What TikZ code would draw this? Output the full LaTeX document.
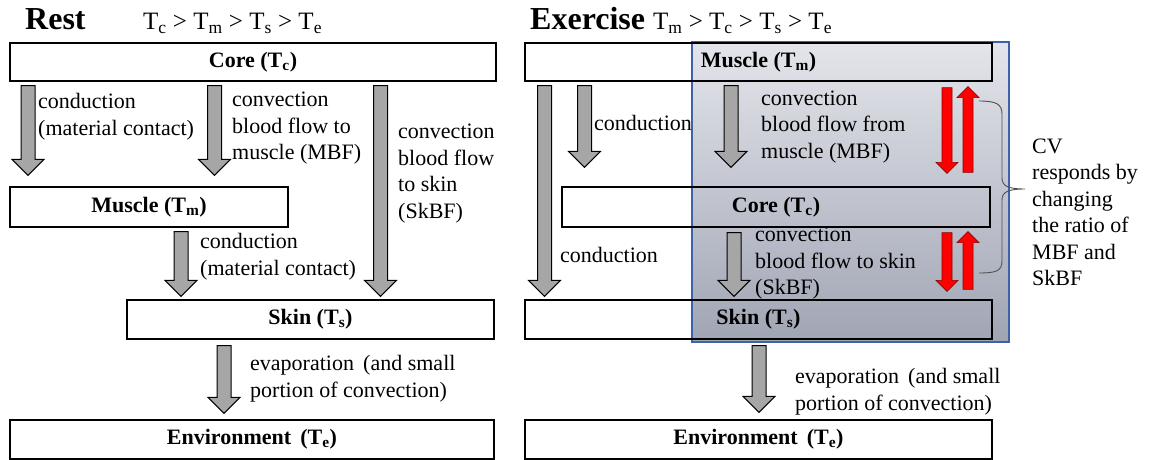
\documentclass[tikz,border=0pt]{standalone}
\usepackage{fontspec}
\setmainfont{Liberation Serif}
\usetikzlibrary{calc}

\definecolor{arrowgray}{RGB}{166,166,166}
\definecolor{shadetop}{RGB}{228,229,235}
\definecolor{shadebot}{RGB}{160,165,180}
\definecolor{frameblue}{RGB}{62,98,170}
\definecolor{darkred}{RGB}{140,0,0}
\definecolor{bracegray}{RGB}{80,80,80}

\newcommand{\txtsize}{\fontsize{22}{26.5}\selectfont}
\newcommand{\ttlsize}{\fontsize{32}{36}\selectfont}
\newcommand{\ineqsize}{\fontsize{25}{30}\selectfont}

% block arrow from #2 to #3 (shaft width, head width and length come from the style)
\newcommand{\fatarrow}[3][fat]{%
  \draw[#1] let \p1=#2, \p2=#3, \p3=($(\p2)!\al!(\p1)$) in
    (\x1-\aw,\y1) -- (\x1+\aw,\y1) -- (\x1+\aw,\y3) -- (\x1+\ah,\y3) -- (\x2,\y2)
    -- (\x1-\ah,\y3) -- (\x1-\aw,\y3) -- cycle;}

\tikzset{
  layer/.style={draw=black, line width=1.3pt, inner sep=0pt, font=\txtsize\bfseries},
  lbl/.style={anchor=west, align=left, inner sep=0pt, font=\txtsize},
  fat/.style={draw=black, fill=arrowgray, line width=1pt, line join=miter,
    /utils/exec={\def\aw{7pt}\def\ah{16pt}\def\al{16pt}}},
  redfat/.style={draw=darkred, fill=red, line width=0.6pt, line join=miter,
    /utils/exec={\def\aw{5pt}\def\ah{11pt}\def\al{11pt}}},
}

\begin{document}
\begin{tikzpicture}[x=1pt, y=-1pt]
    \useasboundingbox (0,0) rectangle (1149,460);

    % exercise: shaded part
    \shade[top color=shadetop, bottom color=shadebot, draw=frameblue, line width=1.1pt] (692,42) rectangle (1009,342);

    % titles
    \node[anchor=base west, inner sep=0pt, font=\ttlsize\bfseries] (restT) at (25,30) {Rest};
    \node[anchor=base west, inner sep=0pt, font=\ineqsize] (restI) at (143,30) {T\textsubscript{c} > T\textsubscript{m} > T\textsubscript{s} > T\textsubscript{e}};
    \node[anchor=base west, inner sep=0pt, font=\ttlsize\bfseries] (exT) at (530,30) {Exercise};
    \node[anchor=base west, inner sep=0pt, font=\ineqsize] (exI) at (653,30) {T\textsubscript{m} > T\textsubscript{c} > T\textsubscript{s} > T\textsubscript{e}};

    % rest: layers
    \node[layer, minimum width=486pt, minimum height=38pt] (coreL) at (253,62) {Core (T\textsubscript{c})};
    \node[layer, minimum width=278pt, minimum height=40pt] (muscL) at (149,207) {Muscle (T\textsubscript{m})};
    \node[layer, minimum width=367pt, minimum height=39pt] (skinL) at (310.5,319.5) {Skin (T\textsubscript{s})};
    \node[layer, minimum width=484pt, minimum height=39pt] (envL) at (252,439.5) {Environment\, (T\textsubscript{e})};

    % exercise: layers
    \node[layer, minimum width=467pt, minimum height=38pt] (muscR) at (758.5,62) {Muscle (T\textsubscript{m})};
    \node[layer, minimum width=428pt, minimum height=40pt] (coreR) at (776,207) {Core (T\textsubscript{c})};
    \node[layer, minimum width=467pt, minimum height=39pt] (skinR) at (758.5,319.5) {Skin (T\textsubscript{s})};
    \node[layer, minimum width=467pt, minimum height=39pt] (envR) at (758.5,439.5) {Environment\, (T\textsubscript{e})};

    % arrow columns
    \coordinate (a1) at (28,0);
    \coordinate (a2) at (214.5,0);
    \coordinate (a3) at (380.5,0);
    \coordinate (a4) at (181,0);
    \coordinate (a5) at (224,0);
    \coordinate (r1) at (544.5,0);
    \coordinate (r2) at (584.5,0);
    \coordinate (r3) at (731,0);
    \coordinate (r4) at (734,0);
    \coordinate (r5) at (759,0);
    \coordinate (rd) at (947,0);
    \coordinate (ru) at (968,0);

    % rest: heat flow
    \fatarrow{($(coreL.south -| a1)+(0,4)$)}{($(muscL.north -| a1)+(0,-11)$)}
    \fatarrow{($(coreL.south -| a2)+(0,4)$)}{($(muscL.north -| a2)+(0,-11)$)}
    \fatarrow{($(coreL.south -| a3)+(0,4)$)}{($(skinL.north -| a3)+(0,-3)$)}
    \fatarrow{($(muscL.south -| a4)+(0,4)$)}{($(skinL.north -| a4)+(0,-3)$)}
    \fatarrow{($(skinL.south -| a5)+(0,6)$)}{($(envL.north -| a5)+(0,-6)$)}

    % exercise: heat flow
    \fatarrow{($(muscR.south -| r1)+(0,4)$)}{($(skinR.north -| r1)+(0,-3)$)}
    \fatarrow{($(muscR.south -| r2)+(0,4)$)}{($(coreR.north -| r2)+(0,-19)$)}
    \fatarrow{($(muscR.south -| r3)+(0,4)$)}{($(coreR.north -| r3)+(0,-19)$)}
    \fatarrow{($(coreR.south -| r4)+(0,5)$)}{($(skinR.north -| r4)+(0,-3)$)}
    \fatarrow{($(skinR.south -| r5)+(0,6)$)}{($(envR.north -| r5)+(0,-7)$)}

    % exercise: CV adjustment
    \fatarrow[redfat]{($(muscR.south -| rd)+(0,6)$)}{($(coreR.north -| rd)+(0,-13)$)}
    \fatarrow[redfat]{($(coreR.north -| ru)+(0,-14)$)}{($(muscR.south -| ru)+(0,5)$)}
    \fatarrow[redfat]{($(coreR.south -| rd)+(0,5)$)}{($(skinR.north -| rd)+(0,-8)$)}
    \fatarrow[redfat]{($(skinR.north -| ru)+(0,-10)$)}{($(coreR.south -| ru)+(0,4)$)}

    % brace
    \draw[bracegray, line width=0.9pt] (979,101) .. controls (996,101) and (1002,104) .. (1002,114) -- (1002,178)
        .. controls (1002,186) and (1008,189) .. (1025,189)
        .. controls (1008,189) and (1002,192) .. (1002,200) -- (1002,261)
        .. controls (1002,271) and (996,273) .. (979,273);

    % rest: labels
    \node[lbl] (condA) at (38,116.5) {conduction\\(material contact)};
    \node[lbl] (convA) at (232,128.5) {convection\\blood flow to\\muscle (MBF)};
    \node[lbl] (convB) at (398,173.5) {convection\\blood flow\\to skin\\(SkBF)};
    \node[lbl] (condB) at (200,256.5) {conduction\\(material contact)};
    \node[lbl] (evapA) at (250,378.5) {evaporation\, (and small\\portion of convection)};

    % exercise: labels
    \node[lbl] (condC) at (594,123) {conduction};
    \node[lbl] (condD) at (560,255) {conduction};
    \node[lbl] (convC) at (761,127) {convection\\blood flow from\\muscle (MBF)};
    \node[lbl] (convD) at (755,263.5) {convection\\blood flow to skin\\(SkBF)};
    \node[lbl] (cvtxt) at (1032,212.5) {CV\\responds by\\changing\\the ratio of\\MBF and\\SkBF};
    \node[lbl] (evapB) at (795,391.5) {evaporation\, (and small\\portion of convection)};
\end{tikzpicture}
\end{document}
